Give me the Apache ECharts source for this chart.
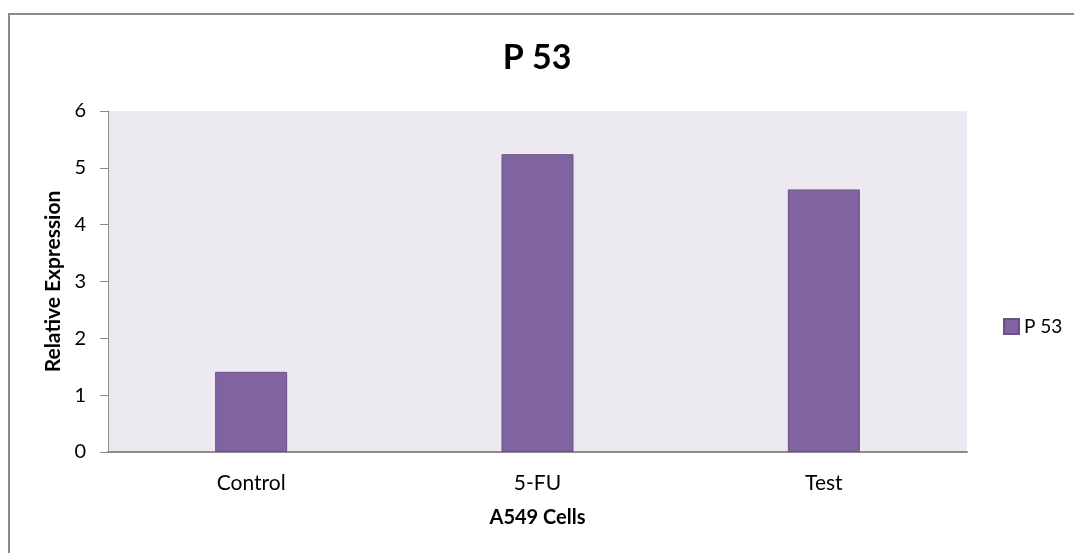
<!DOCTYPE html>
<html>
<head>
<meta charset="utf-8">
<script src="https://cdn.jsdelivr.net/npm/echarts@6/dist/echarts.min.js"></script>
<style>
  html, body { margin: 0; padding: 0; background: #ffffff; }
  #chart { width: 1074px; height: 553px; }
</style>
</head>
<body>
<div id="chart"></div>
<script>
// Relative p53 expression in A549 cells
const categories = ['Control', '5-FU', 'Test'];
const p53Values = [1.41, 5.24, 4.62];
const yTicks = [0, 1, 2, 3, 4, 5, 6];

const fontFamily = 'Lato, "Open Sans", "Liberation Sans", sans-serif';

const chart = echarts.init(document.getElementById('chart'), null, { renderer: 'canvas' });

chart.setOption({
  backgroundColor: '#ffffff',
  animation: false,
  title: {
    text: 'P 53',
    left: 'center',
    top: 36,
    textStyle: { fontFamily, fontSize: 34, fontWeight: 'bold', color: '#000000' }
  },
  legend: {
    data: ['P 53'],
    icon: 'rect',
    orient: 'vertical',
    left: 998,
    top: 312,
    itemWidth: 15,
    itemHeight: 15,
    itemGap: 4,
    textStyle: { fontFamily, fontSize: 19, color: '#000000' }
  },
  graphic: [{
    type: 'rect',
    shape: { x: 9, y: 14, width: 1200, height: 700 },
    style: { fill: 'none', stroke: '#8a8a8a', lineWidth: 2 },
    silent: true,
    z: 100
  }],
  grid: {
    left: 108,
    top: 111,
    width: 859,
    height: 341,
    show: true,
    backgroundColor: '#ECEAF0',
    borderWidth: 0
  },
  xAxis: {
    type: 'category',
    data: categories,
    name: 'A549 Cells',
    nameLocation: 'middle',
    nameGap: 56,
    nameTextStyle: { fontFamily, fontSize: 20, fontWeight: 'bold', color: '#000000' },
    axisLine: { show: true, lineStyle: { color: '#8c8c8c', width: 2 } },
    axisTick: { show: false },
    axisLabel: { fontFamily, fontSize: 21, color: '#000000', margin: 21 },
    splitLine: { show: false }
  },
  yAxis: {
    type: 'value',
    min: 0,
    max: 6,
    interval: 1,
    name: 'Relative Expression',
    nameLocation: 'middle',
    nameGap: 41,
    nameRotate: 90,
    nameTextStyle: { fontFamily, fontSize: 21, fontWeight: 'bold', color: '#000000' },
    axisLine: { show: true, lineStyle: { color: '#8c8c8c', width: 1 } },
    axisTick: { show: true, inside: false, length: 8, lineStyle: { color: '#8c8c8c' } },
    axisLabel: {
      fontFamily, fontSize: 20, color: '#000000', margin: 22,
      formatter: v => (yTicks.includes(v) ? String(v) : '')
    },
    splitLine: { show: false }
  },
  series: [{
    name: 'P 53',
    type: 'bar',
    data: p53Values,
    barWidth: 72,
    itemStyle: { color: '#8064A2', borderColor: '#6B5088', borderWidth: 1 }
  }]
});
</script>
</body>
</html>
